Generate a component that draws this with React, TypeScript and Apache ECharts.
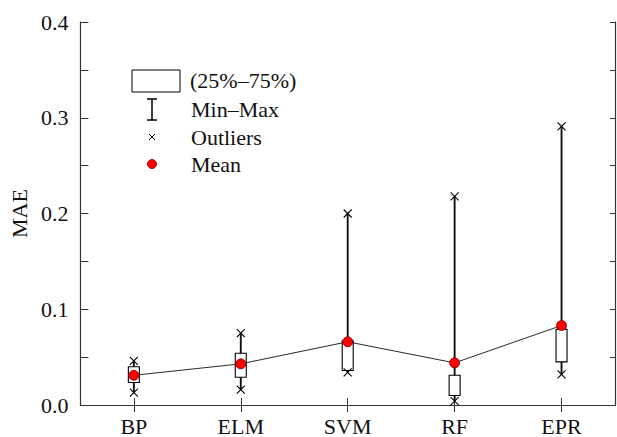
import React, { useEffect, useRef } from "react";
import * as echarts from "echarts";

const categories = ["BP", "ELM", "SVM", "RF", "EPR"];
const minValues = [0.013, 0.016, 0.034, 0.004, 0.032];
const q1Values = [0.0235, 0.029, 0.036, 0.010, 0.045];
const q3Values = [0.040, 0.054, 0.067, 0.031, 0.079];
const maxValues = [0.046, 0.075, 0.200, 0.218, 0.291];
const meanValues = [0.031, 0.043, 0.066, 0.044, 0.083];
const yTicks = [0, 0.1, 0.2, 0.3, 0.4];

const FONT = "serif";

export default function App() {
  const ref = useRef<HTMLDivElement>(null);
  useEffect(() => {
    if (!ref.current) return;
    const chart = echarts.init(ref.current, null, { renderer: "svg" });
    const boxData = categories.map((_, i) => [i, minValues[i], q1Values[i], q3Values[i], maxValues[i]]);
    const axisLine = { show: true, lineStyle: { color: "#333", width: 1.2 } };
    const legendFont = `22px ${FONT}`;
    const option: any = {
      animation: false,
      backgroundColor: "#fff",
      textStyle: { fontFamily: FONT },
      grid: { left: 76, top: 22, right: 2, bottom: 30, containLabel: false },
      xAxis: [
        {
          type: "category",
          data: categories,
          position: "bottom",
          boundaryGap: true,
          axisLine,
          axisTick: { show: true, inside: true, alignWithLabel: true, length: 7, lineStyle: { color: "#333" } },
          axisLabel: { color: "#111", fontFamily: FONT, fontSize: 22, margin: 10 },
          splitLine: { show: false },
        },
        {
          type: "category",
          data: categories,
          position: "top",
          boundaryGap: true,
          axisLine,
          axisTick: { show: true, inside: true, alignWithLabel: true, length: 7, lineStyle: { color: "#333" } },
          axisLabel: { show: false },
          splitLine: { show: false },
        },
      ],
      yAxis: [
        {
          type: "value",
          min: yTicks[0],
          max: yTicks[yTicks.length - 1],
          interval: 0.1,
          position: "left",
          name: "MAE",
          nameLocation: "middle",
          nameGap: 46,
          nameRotate: 90,
          nameTextStyle: { color: "#111", fontFamily: FONT, fontSize: 22 },
          axisLine,
          axisTick: { show: true, inside: true, length: 8, lineStyle: { color: "#333" } },
          minorTick: { show: true, splitNumber: 2, length: 8, lineStyle: { color: "#333" } },
          axisLabel: {
            color: "#111",
            fontFamily: FONT,
            fontSize: 22,
            margin: 12,
            formatter: (v: number) => v.toFixed(1),
          },
          splitLine: { show: false },
          minorSplitLine: { show: false },
        },
        {
          type: "value",
          min: yTicks[0],
          max: yTicks[yTicks.length - 1],
          interval: 0.1,
          position: "right",
          axisLine,
          axisTick: { show: true, inside: true, length: 5, lineStyle: { color: "#333" } },
          minorTick: { show: true, splitNumber: 2, length: 5, lineStyle: { color: "#333" } },
          axisLabel: { show: false },
          splitLine: { show: false },
        },
      ],
      series: [
        {
          type: "custom",
          xAxisIndex: 0,
          yAxisIndex: 0,
          data: boxData,
          z: 2,
          renderItem: (params: any, api: any) => {
            const i = api.value(0);
            const pMin = api.coord([i, api.value(1)]);
            const pQ1 = api.coord([i, api.value(2)]);
            const pQ3 = api.coord([i, api.value(3)]);
            const pMax = api.coord([i, api.value(4)]);
            const x = pMin[0];
            const hw = 5.5;
            const xs = 4;
            const cross = (y: number) => [
              { type: "line", shape: { x1: x - xs, y1: y - xs, x2: x + xs, y2: y + xs }, style: { stroke: "#000", lineWidth: 1.1 } },
              { type: "line", shape: { x1: x - xs, y1: y + xs, x2: x + xs, y2: y - xs }, style: { stroke: "#000", lineWidth: 1.1 } },
            ];
            return {
              type: "group",
              children: [
                { type: "line", shape: { x1: x, y1: pMin[1], x2: x, y2: pMax[1] }, style: { stroke: "#111", lineWidth: 1.9 } },
                {
                  type: "rect",
                  shape: { x: x - hw, y: pQ3[1], width: hw * 2, height: pQ1[1] - pQ3[1] },
                  style: { fill: "#fff", stroke: "#000", lineWidth: 1.1 },
                },
                ...cross(pMin[1]),
                ...cross(pMax[1]),
              ],
            };
          },
        },
        {
          type: "line",
          xAxisIndex: 0,
          yAxisIndex: 0,
          data: meanValues,
          z: 3,
          symbol: "circle",
          symbolSize: 10,
          lineStyle: { color: "#111", width: 0.9 },
          itemStyle: { color: "#ff0000", borderColor: "#700", borderWidth: 0.8 },
        },
      ],
      graphic: [
        { type: "rect", shape: { x: 132, y: 70, width: 48, height: 22 }, style: { fill: "#fff", stroke: "#000", lineWidth: 1 } },
        { type: "text", x: 190, y: 80, style: { text: "(25%–75%)", font: legendFont, fill: "#111", verticalAlign: "middle" } },
        { type: "line", shape: { x1: 152, y1: 99, x2: 152, y2: 120 }, style: { stroke: "#000", lineWidth: 1.5 } },
        { type: "line", shape: { x1: 147, y1: 99, x2: 157, y2: 99 }, style: { stroke: "#000", lineWidth: 1.5 } },
        { type: "line", shape: { x1: 147, y1: 120, x2: 157, y2: 120 }, style: { stroke: "#000", lineWidth: 1.5 } },
        { type: "text", x: 191, y: 109, style: { text: "Min–Max", font: legendFont, fill: "#111", verticalAlign: "middle" } },
        { type: "line", shape: { x1: 149, y1: 134, x2: 155, y2: 140 }, style: { stroke: "#000", lineWidth: 1 } },
        { type: "line", shape: { x1: 149, y1: 140, x2: 155, y2: 134 }, style: { stroke: "#000", lineWidth: 1 } },
        { type: "text", x: 191, y: 137, style: { text: "Outliers", font: legendFont, fill: "#111", verticalAlign: "middle" } },
        { type: "circle", shape: { cx: 152, cy: 164, r: 4.5 }, style: { fill: "#ff0000", stroke: "#700", lineWidth: 0.8 } },
        { type: "text", x: 191, y: 164, style: { text: "Mean", font: legendFont, fill: "#111", verticalAlign: "middle" } },
      ],
    };
    chart.setOption(option);
    return () => chart.dispose();
  }, []);
  return (
    <div
      ref={ref}
      style={{ position: "fixed", left: 0, top: 0, width: 617, height: 437, background: "#fff" }}
    />
  );
}
